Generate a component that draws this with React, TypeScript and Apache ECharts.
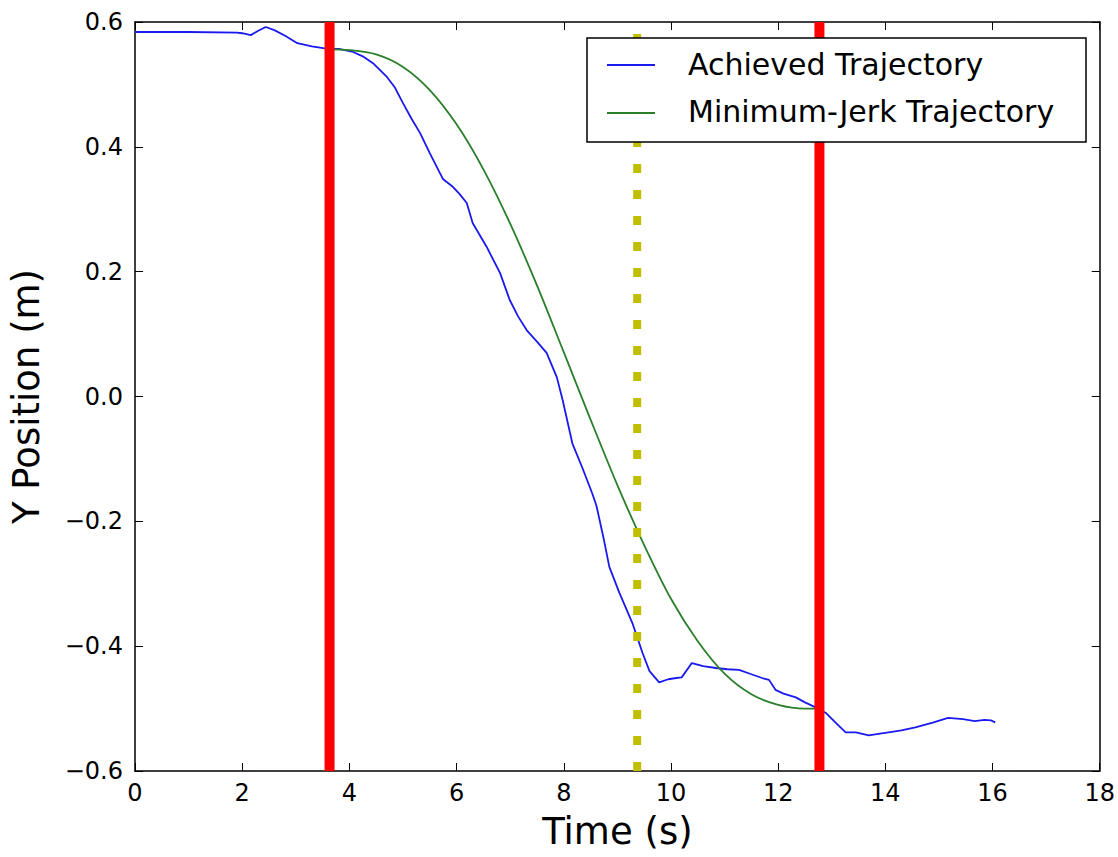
import React, { useEffect, useRef } from "react";
import * as echarts from "echarts";

const achievedTrajectory: [number, number][] = [
  [0, 0.584], [1, 0.584], [1.9, 0.583], [2.0, 0.582], [2.16, 0.579], [2.3, 0.586],
  [2.44, 0.592], [2.6, 0.587], [2.8, 0.578], [3.03, 0.566], [3.3, 0.561], [3.6, 0.557],
  [3.8, 0.557], [4.07, 0.552], [4.25, 0.545], [4.44, 0.534], [4.7, 0.512], [4.85, 0.495],
  [5.0, 0.47], [5.16, 0.445], [5.32, 0.422], [5.5, 0.39], [5.69, 0.358], [5.75, 0.348],
  [5.93, 0.336], [6.05, 0.325], [6.19, 0.31], [6.3, 0.278], [6.56, 0.24], [6.81, 0.198],
  [6.99, 0.155], [7.15, 0.128], [7.31, 0.106], [7.5, 0.088], [7.68, 0.07], [7.87, 0.031],
  [7.98, -0.006], [8.16, -0.075], [8.35, -0.115], [8.53, -0.155], [8.61, -0.175],
  [8.75, -0.23], [8.85, -0.273], [9.04, -0.315], [9.28, -0.363], [9.47, -0.411],
  [9.6, -0.44], [9.78, -0.458], [9.95, -0.453], [10.1, -0.451], [10.2, -0.45],
  [10.39, -0.427], [10.6, -0.432], [10.84, -0.435], [11.05, -0.437], [11.27, -0.438],
  [11.5, -0.445], [11.7, -0.451], [11.83, -0.454], [11.95, -0.47], [12.1, -0.476],
  [12.33, -0.482], [12.5, -0.49], [12.7, -0.498], [12.89, -0.507], [13.1, -0.525],
  [13.26, -0.538], [13.45, -0.538], [13.69, -0.543], [13.9, -0.54], [14.06, -0.538],
  [14.3, -0.535], [14.56, -0.53], [14.9, -0.522], [15.17, -0.515], [15.45, -0.517],
  [15.67, -0.52], [15.85, -0.518], [15.97, -0.519], [16.05, -0.522],
];

const minimumJerkTrajectory: [number, number][] = [
  [3.63, 0.556], [4.0, 0.555], [4.5, 0.548], [5.0, 0.528], [5.5, 0.491], [6.0, 0.436],
  [6.5, 0.364], [7.0, 0.277], [7.5, 0.178], [8.0, 0.071], [8.5, -0.037], [9.0, -0.142],
  [9.5, -0.238], [10.0, -0.324], [10.5, -0.392], [11.0, -0.444], [11.5, -0.477],
  [12.0, -0.494], [12.5, -0.5], [12.77, -0.5],
];

const redMarkers: number[] = [3.63, 12.77];
const yellowMarkers: number[] = [9.37];

const xTicks = { min: 0, max: 18, interval: 2 };
const yTicks = { min: -0.6, max: 0.6, interval: 0.2 };

const legendLabels = ["Achieved Trajectory", "Minimum-Jerk Trajectory"];
const xTitle = "Time (s)";
const yTitle = "Y Position (m)";

const FONT = "DejaVu Sans";
const BLUE = "#1a1aee";
const GREEN = "#2a7f2a";

export default function App() {
  const ref = useRef<HTMLDivElement>(null);

  useEffect(() => {
    if (!ref.current) return;
    const chart = echarts.init(ref.current, undefined, { renderer: "svg" });

    const fmtY = (v: number) => {
      const s = (Math.abs(v) < 1e-9 ? 0 : v).toFixed(1);
      return s.replace("-", "\u2212");
    };

    const axisLine = { show: true, onZero: false, lineStyle: { color: "#000", width: 1.5 } };
    const axisTick = { show: true, inside: true, length: 8, lineStyle: { color: "#000", width: 1 } };

    const vline = (x: number) => [
      [x, yTicks.min],
      [x, yTicks.max],
    ];

    const series: any[] = [
      {
        type: "line",
        name: legendLabels[0],
        data: achievedTrajectory,
        showSymbol: false,
        lineStyle: { color: BLUE, width: 1.8 },
        z: 2,
      },
      {
        type: "line",
        name: legendLabels[1],
        data: minimumJerkTrajectory,
        showSymbol: false,
        smooth: 0.3,
        lineStyle: { color: GREEN, width: 1.8 },
        z: 2,
      },
      ...redMarkers.map((x) => ({
        type: "line",
        data: vline(x),
        showSymbol: false,
        silent: true,
        lineStyle: { color: "#ff0000", width: 10 },
        z: 3,
      })),
      ...yellowMarkers.map((x) => ({
        type: "line",
        data: vline(x),
        showSymbol: false,
        silent: true,
        lineStyle: { color: "#bfbf00", width: 8, type: [9, 17] },
        z: 3,
      })),
    ];

    const legendX = 587;
    const legendY = 38;

    chart.setOption({
      animation: false,
      backgroundColor: "#fff",
      grid: { left: 134, top: 22, right: 16, bottom: 86, containLabel: false },
      xAxis: [
        {
          type: "value",
          position: "bottom",
          ...xTicks,
          axisLine,
          axisTick,
          splitLine: { show: false },
          axisLabel: { color: "#000", fontFamily: FONT, fontSize: 24, margin: 10 },
          name: xTitle,
          nameLocation: "middle",
          nameGap: 42,
          nameTextStyle: { color: "#000", fontFamily: FONT, fontSize: 37 },
        },
        {
          type: "value",
          position: "top",
          ...xTicks,
          axisLine,
          axisTick,
          splitLine: { show: false },
          axisLabel: { show: false },
        },
      ],
      yAxis: [
        {
          type: "value",
          position: "left",
          ...yTicks,
          axisLine,
          axisTick,
          splitLine: { show: false },
          axisLabel: { color: "#000", fontFamily: FONT, fontSize: 24, margin: 12, formatter: fmtY },
          name: yTitle,
          nameLocation: "middle",
          nameGap: 90,
          nameTextStyle: { color: "#000", fontFamily: FONT, fontSize: 37 },
        },
        {
          type: "value",
          position: "right",
          ...yTicks,
          axisLine,
          axisTick,
          splitLine: { show: false },
          axisLabel: { show: false },
        },
      ],
      series,
      graphic: [
        {
          type: "rect",
          z: 100,
          zlevel: 1,
          shape: { x: legendX, y: legendY, width: 499, height: 104 },
          style: { fill: "#fff", stroke: "#000", lineWidth: 1.5 },
        },
        {
          type: "line",
          z: 101,
          zlevel: 1,
          shape: { x1: legendX + 20, y1: legendY + 27, x2: legendX + 68, y2: legendY + 27 },
          style: { stroke: BLUE, lineWidth: 1.8 },
        },
        {
          type: "text",
          z: 101,
          zlevel: 1,
          x: legendX + 101,
          y: legendY + 26,
          style: {
            text: legendLabels[0],
            fill: "#000",
            font: `30px "${FONT}"`,
            verticalAlign: "middle",
            align: "left",
          },
        },
        {
          type: "line",
          z: 101,
          zlevel: 1,
          shape: { x1: legendX + 20, y1: legendY + 75, x2: legendX + 68, y2: legendY + 75 },
          style: { stroke: GREEN, lineWidth: 1.8 },
        },
        {
          type: "text",
          z: 101,
          zlevel: 1,
          x: legendX + 101,
          y: legendY + 73,
          style: {
            text: legendLabels[1],
            fill: "#000",
            font: `30px "${FONT}"`,
            verticalAlign: "middle",
            align: "left",
          },
        },
      ],
    });

    return () => chart.dispose();
  }, []);

  return <div ref={ref} style={{ width: 1118, height: 857, position: "absolute", left: 0, top: 0 }} />;
}
